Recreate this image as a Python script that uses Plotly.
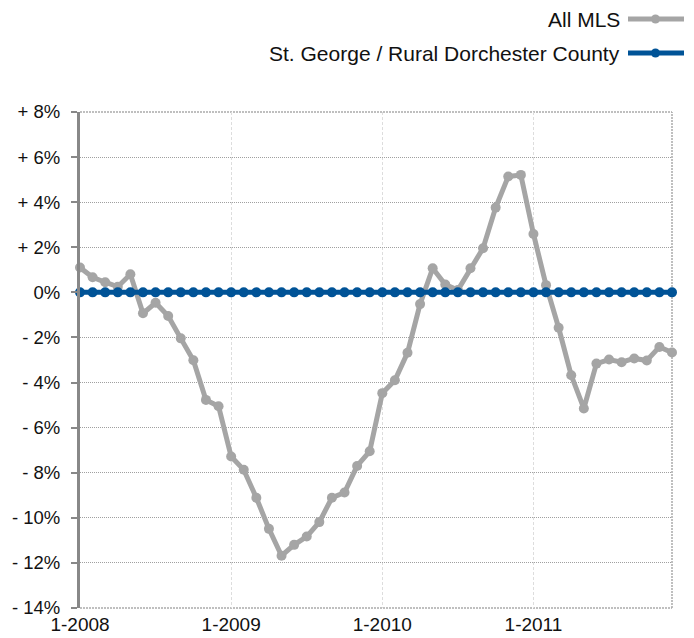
import plotly.graph_objects as go

# ---- data ----
months = list(range(48))  # month index, 0 = Jan 2008 ... 47 = Dec 2011
x_tick_vals = [0, 12, 24, 36]
x_tick_text = ["1-2008", "1-2009", "1-2010", "1-2011"]

all_mls = [1.1, 0.67, 0.45, 0.25, 0.8, -0.93, -0.46, -1.05, -2.04, -3.01, -4.77, -5.05,
           -7.28, -7.87, -9.11, -10.49, -11.68, -11.2, -10.83, -10.19, -9.11, -8.88, -7.7, -7.05,
           -4.47, -3.9, -2.68, -0.52, 1.07, 0.35, 0.1, 1.07, 1.96, 3.76, 5.14, 5.21,
           2.59, 0.32, -1.57, -3.68, -5.15, -3.16, -2.98, -3.1, -2.93, -3.02, -2.42, -2.67]
st_george = [0.0] * 48

y_tick_vals = [8, 6, 4, 2, 0, -2, -4, -6, -8, -10, -12, -14]
y_tick_text = ["+ 8%", "+ 6%", "+ 4%", "+ 2%", "0%", "- 2%", "- 4%", "- 6%", "- 8%",
               "- 10%", "- 12%", "- 14%"]

series_names = ["All MLS", "St. George / Rural Dorchester County"]
GRAY = "#a5a5a5"
BLUE = "#005397"
FONT = "Liberation Sans, Arial, sans-serif"

# page body has an 8px default margin: compensate so the plot lands where intended
OFF = 8
W, H = 694 - OFF, 638 - OFF
ML, MR, MT, MB = 80 - OFF, 22, 112 - OFF, 30
PW = W - ML - MR
PH = H - MT - MB


def px_x(x):  # page pixel -> paper x
    return (x - OFF - ML) / PW


def px_y(y):  # page pixel -> paper y
    return 1 - (y - OFF - MT) / PH


fig = go.Figure()
fig.add_trace(go.Scatter(x=months, y=all_mls, mode="lines+markers", name=series_names[0],
                         line=dict(color=GRAY, width=5), marker=dict(color=GRAY, size=10),
                         cliponaxis=False, showlegend=False))
fig.add_trace(go.Scatter(x=months, y=st_george, mode="lines+markers", name=series_names[1],
                         line=dict(color=BLUE, width=5), marker=dict(color=BLUE, size=10),
                         cliponaxis=False, showlegend=False))

# plot-area borders (top, right, bottom) dotted
for (x0, y0, x1, y1) in [(0, 1, 1, 1), (1, 0, 1, 1), (0, 0, 1, 0)]:
    fig.add_shape(type="line", xref="paper", yref="paper", x0=x0, y0=y0, x1=x1, y1=y1,
                  line=dict(color="#aaaaaa", width=1.5, dash="2px,1px"), layer="below")

# manual legend (text on left, symbol on right)
leg_y = [19, 53]
leg_colors = [GRAY, BLUE]
for name, yy, col in zip(series_names, leg_y, leg_colors):
    yp = px_y(yy)
    fig.add_annotation(xref="paper", yref="paper", x=px_x(622), y=yp, text=name,
                       showarrow=False, xanchor="right", yanchor="middle",
                       font=dict(family=FONT, size=21, color="#111111"))
    fig.add_shape(type="line", xref="paper", yref="paper",
                  x0=px_x(628), x1=px_x(684), y0=yp, y1=yp,
                  line=dict(color=col, width=5))
    cx = px_x(655.5)
    dx = 4.5 / PW
    dy = 4.5 / PH
    fig.add_shape(type="circle", xref="paper", yref="paper",
                  x0=cx - dx, x1=cx + dx, y0=yp - dy, y1=yp + dy,
                  fillcolor=col, line=dict(color=col, width=0))

fig.update_layout(
    width=W, height=H,
    margin=dict(l=ML, r=MR, t=MT, b=MB, autoexpand=False),
    paper_bgcolor="white", plot_bgcolor="white",
    font=dict(family=FONT, size=18, color="#111111"),
    showlegend=False,
)
fig.update_xaxes(range=[0, 47], tickvals=x_tick_vals, ticktext=x_tick_text,
                 showgrid=True, gridcolor="#dddddd", griddash="3px,2px", gridwidth=1,
                 showline=False, zeroline=False, ticks="", tickfont=dict(size=19),
                 ticklabelstandoff=3, automargin=False)
fig.update_yaxes(range=[-14, 8], tickvals=y_tick_vals, ticktext=y_tick_text,
                 showgrid=True, gridcolor="#a0a0a0", griddash="1px,1px", gridwidth=1,
                 showline=True, linecolor="#888888", linewidth=3,
                 ticks="outside", ticklen=6, tickcolor="#888888", tickwidth=1.5,
                 ticklabelstandoff=7, zeroline=False, tickfont=dict(size=18.5),
                 automargin=False)

fig.write_html("out.html")
